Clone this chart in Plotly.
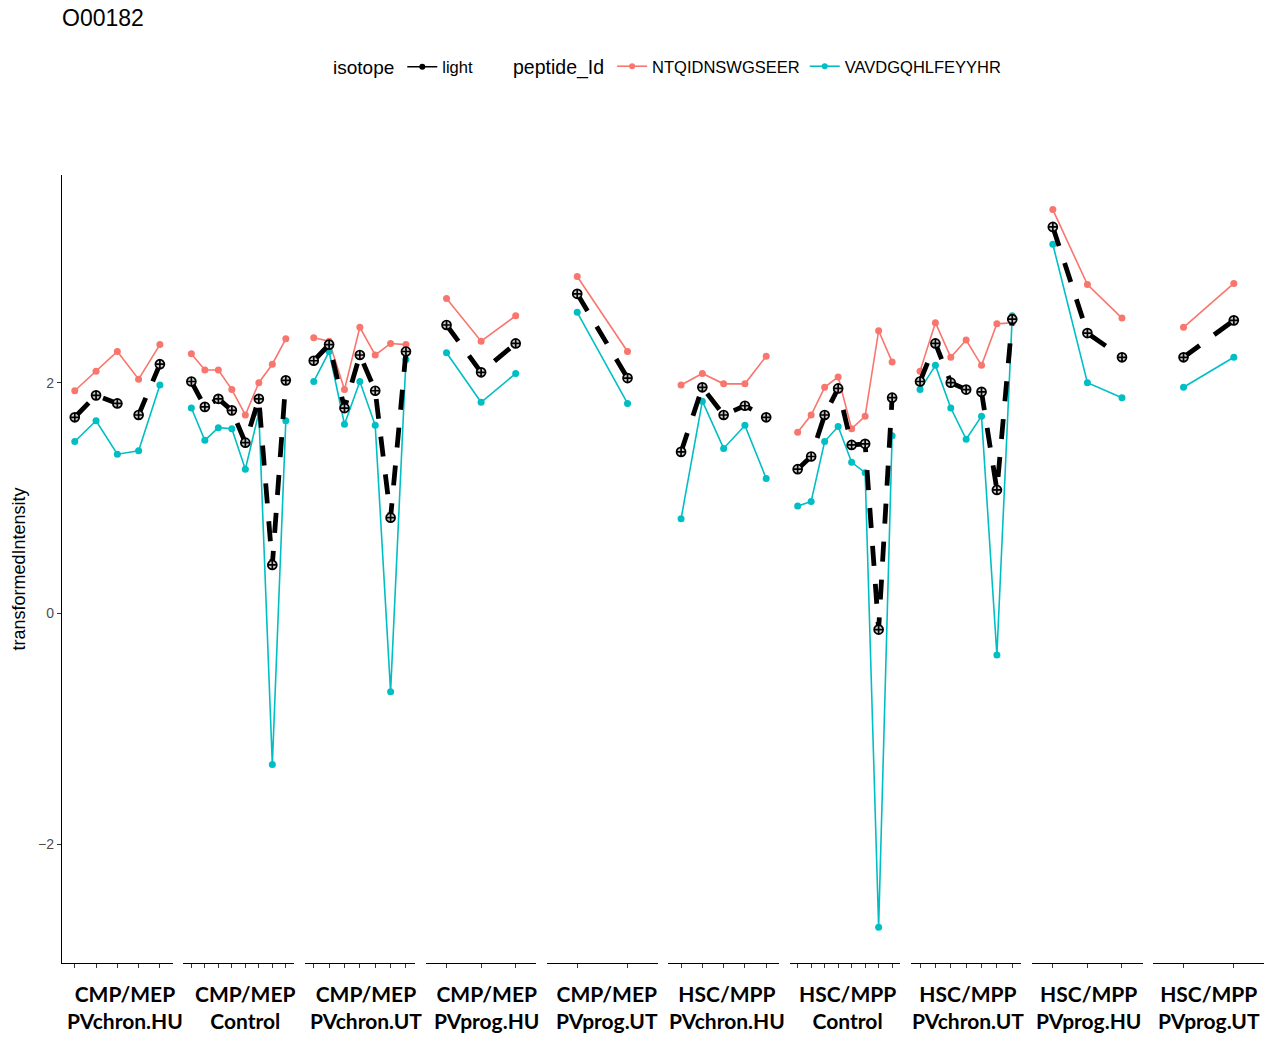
import plotly.graph_objects as go

# Facet strips: cell population and condition
cell_types = ["CMP/MEP", "CMP/MEP", "CMP/MEP", "CMP/MEP", "CMP/MEP",
              "HSC/MPP", "HSC/MPP", "HSC/MPP", "HSC/MPP", "HSC/MPP"]
conditions = ["PVchron.HU", "Control", "PVchron.UT", "PVprog.HU", "PVprog.UT",
              "PVchron.HU", "Control", "PVchron.UT", "PVprog.HU", "PVprog.UT"]

# transformedIntensity per sample within each facet
ntq_values = [
    [1.93, 2.10, 2.27, 2.03, 2.33],
    [2.25, 2.11, 2.11, 1.94, 1.72, 2.00, 2.16, 2.38],
    [2.39, 2.36, 1.94, 2.48, 2.24, 2.34, 2.33],
    [2.73, 2.36, 2.58],
    [2.92, 2.27],
    [1.98, 2.08, 1.99, 1.99, 2.23],
    [1.57, 1.72, 1.96, 2.05, 1.60, 1.71, 2.45, 2.18],
    [2.10, 2.52, 2.22, 2.37, 2.15, 2.51, 2.52],
    [3.50, 2.85, 2.56],
    [2.48, 2.86],
]
vav_values = [
    [1.49, 1.67, 1.38, 1.41, 1.98],
    [1.78, 1.50, 1.61, 1.60, 1.25, 1.74, -1.31, 1.67],
    [2.01, 2.27, 1.64, 2.01, 1.63, -0.68, 2.20],
    [2.26, 1.83, 2.08],
    [2.61, 1.82],
    [0.82, 1.84, 1.43, 1.63, 1.17],
    [0.93, 0.97, 1.49, 1.62, 1.31, 1.22, -2.72, 1.54],
    [1.94, 2.15, 1.78, 1.51, 1.71, -0.36, 2.58],
    [3.20, 2.00, 1.87],
    [1.96, 2.22],
]
light_values = [
    [1.70, 1.89, 1.82, 1.72, 2.16],
    [2.01, 1.79, 1.86, 1.76, 1.48, 1.86, 0.42, 2.02],
    [2.19, 2.33, 1.78, 2.24, 1.93, 0.83, 2.27],
    [2.50, 2.09, 2.34],
    [2.77, 2.04],
    [1.40, 1.96, 1.72, 1.80, 1.70],
    [1.25, 1.36, 1.72, 1.95, 1.46, 1.47, -0.14, 1.87],
    [2.01, 2.34, 2.00, 1.94, 1.92, 1.07, 2.55],
    [3.35, 2.43, 2.22],
    [2.22, 2.54],
]

y_ticks = [-2, 0, 2]
RED = "#F8766D"
CYAN = "#00BFC4"

W, H = 1280, 1040
ML, MR, MT, MB = 62, 16, 175, 77
n_panels = len(conditions)
gap_px = 10.6
plot_w = W - ML - MR
panel_w = (plot_w - gap_px * (n_panels - 1)) / n_panels

# strip labels sit on a slightly tighter pitch than the panels
strip_first_px, strip_pitch_px = 124.5, 120.5

fig = go.Figure()
layout = {}
annotations = []

for i in range(n_panels):
    ax = "" if i == 0 else str(i + 1)
    n = len(ntq_values[i])
    xs = list(range(n))
    x0 = (i * (panel_w + gap_px)) / plot_w
    x1 = (i * (panel_w + gap_px) + panel_w) / plot_w

    fig.add_trace(go.Scatter(
        x=xs, y=ntq_values[i], mode="lines+markers", xaxis="x" + ax, yaxis="y" + ax,
        line=dict(color=RED, width=1.6), marker=dict(color=RED, size=7),
        showlegend=False, hoverinfo="skip"))
    fig.add_trace(go.Scatter(
        x=xs, y=vav_values[i], mode="lines+markers", xaxis="x" + ax, yaxis="y" + ax,
        line=dict(color=CYAN, width=1.6), marker=dict(color=CYAN, size=7),
        showlegend=False, hoverinfo="skip"))
    fig.add_trace(go.Scatter(
        x=xs, y=light_values[i], mode="lines+markers", xaxis="x" + ax, yaxis="y" + ax,
        line=dict(color="black", width=4.8, dash="20px,18px"),
        marker=dict(symbol="circle-cross", size=9, color="#cccccc",
                    line=dict(color="black", width=1.7)),
        showlegend=False, hoverinfo="skip"))

    layout["xaxis" + ax] = dict(
        domain=[x0, x1], range=[-0.6, n - 0.4], anchor="y" + ax,
        tickvals=xs, showticklabels=False, ticks="outside", ticklen=4,
        tickcolor="#333333", tickwidth=1, showline=True, linecolor="black",
        linewidth=1.4, showgrid=False, zeroline=False, fixedrange=True)
    if i == 0:
        layout["yaxis"] = dict(
            range=[-3.03, 3.80], anchor="x", tickvals=y_ticks,
            ticktext=[str(t).replace("-", "\u2212") for t in y_ticks],
            ticks="outside", ticklen=4, tickcolor="#333333", tickwidth=1,
            tickfont=dict(family="Liberation Sans", size=14, color="#4d4d4d"),
            showline=True, linecolor="black", linewidth=1.4,
            showgrid=False, zeroline=False,
            title=dict(text="transformedIntensity", standoff=7,
                       font=dict(family="Liberation Sans", size=18, color="black")))
    else:
        layout["yaxis" + ax] = dict(
            range=[-3.03, 3.80], anchor="x" + ax, matches="y", visible=False,
            showgrid=False, zeroline=False)

    annotations.append(dict(
        x=(strip_first_px + i * strip_pitch_px - ML) / plot_w, y=0,
        xref="paper", yref="paper",
        xanchor="center", yanchor="top", align="center",
        yshift=-16, showarrow=False,
        text="<b>%s<br>%s</b>" % (cell_types[i], conditions[i]),
        font=dict(family="Lato", size=21, color="black")))

# Legend entries
fig.add_trace(go.Scatter(
    x=[None], y=[None], mode="lines+markers", name="light",
    line=dict(color="black", width=1.6), marker=dict(color="black", size=6),
    legend="legend"))
fig.add_trace(go.Scatter(
    x=[None], y=[None], mode="lines+markers", name="NTQIDNSWGSEER",
    line=dict(color=RED, width=1.6), marker=dict(color=RED, size=6),
    legend="legend2"))
fig.add_trace(go.Scatter(
    x=[None], y=[None], mode="lines+markers", name="VAVDGQHLFEYYHR",
    line=dict(color=CYAN, width=1.6), marker=dict(color=CYAN, size=6),
    legend="legend2"))

fig.update_layout(
    width=W, height=H,
    margin=dict(l=ML, r=MR, t=MT, b=MB),
    paper_bgcolor="white", plot_bgcolor="white",
    font=dict(family="Liberation Sans", color="black"),
    title=dict(text="O00182", x=0, xref="paper", xanchor="left",
               y=1 - 18 / H, yref="container", yanchor="middle",
               font=dict(family="Liberation Sans", size=23, color="black")),
    legend=dict(orientation="h", x=(331 - ML) / plot_w, xanchor="left",
                y=(H - MB - 67) / (H - MT - MB), yanchor="middle",
                title=dict(text="isotope", side="left",
                           font=dict(family="Liberation Sans", size=19)),
                font=dict(family="Liberation Sans", size=16.5),
                bgcolor="rgba(0,0,0,0)"),
    legend2=dict(orientation="h", x=(511 - ML) / plot_w, xanchor="left",
                 y=(H - MB - 67) / (H - MT - MB), yanchor="middle",
                 title=dict(text="peptide_Id", side="left",
                            font=dict(family="Liberation Sans", size=19.5)),
                 font=dict(family="Liberation Sans", size=16.5),
                 bgcolor="rgba(0,0,0,0)"),
    annotations=annotations,
    **layout,
)

fig.write_html("out.html")
